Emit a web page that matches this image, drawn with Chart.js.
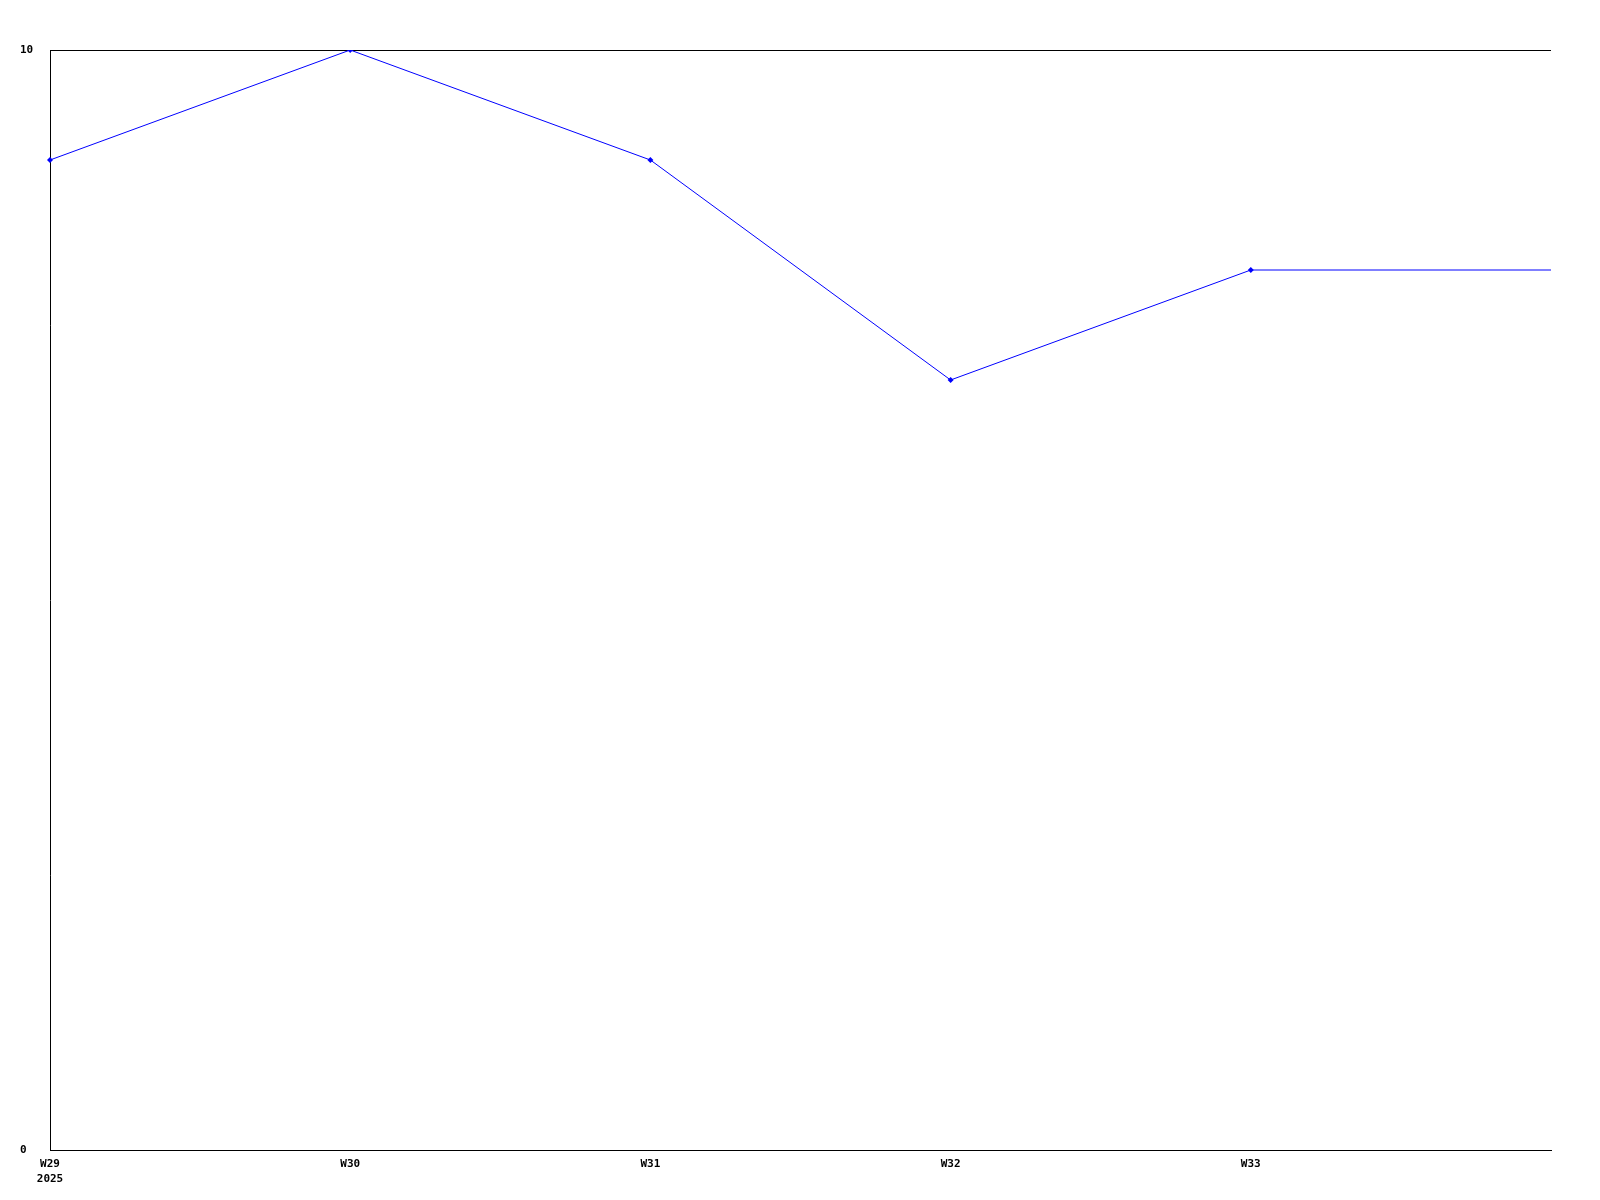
<!DOCTYPE html>
<html>
<head>
<meta charset="utf-8">
<script src="https://cdn.jsdelivr.net/npm/chart.js@4"></script>
<style>
  html, body { margin: 0; padding: 0; background: #fff; }
  #wrap { width: 1600px; height: 1200px; }
</style>
</head>
<body>
<div id="wrap"><canvas id="myChart" width="1600" height="1200"></canvas></div>
<script>
const weeks = [["W29", "2025"], "W30", "W31", "W32", "W33", ""];
const values = [9, 10, 9, 7, 8, 8];
const yTicks = [0, 10];

Chart.defaults.font.family = "'DejaVu Sans Mono', monospace";
Chart.defaults.font.size = 11;
Chart.defaults.font.weight = "bold";
Chart.defaults.color = "#000";

const ctx = document.getElementById("myChart");
const myChart = new Chart(ctx, {
  type: "line",
  data: {
    labels: weeks,
    datasets: [
      {
        data: values,
        borderColor: "#0000ff",
        backgroundColor: "#0000ff",
        borderWidth: 1,
        pointStyle: "rectRot",
        pointRadius: values.map((v, i) => (i === values.length - 1 ? 0 : 3)),
        pointBorderWidth: 0,
        tension: 0,
      },
    ],
  },
  options: {
    responsive: false,
    animation: false,
    layout: { padding: { left: 20, top: 50, right: 49, bottom: 0 } },
    plugins: {
      legend: { display: false },
      tooltip: { enabled: false },
    },
    scales: {
      x: {
        offset: false,
        grid: { display: false, drawTicks: false },
        border: { color: "#000", width: 1 },
        ticks: { padding: 7, maxRotation: 0, autoSkip: false, font: { lineHeight: 1.35 } },
        afterFit: (axis) => { axis.height = 50; },
      },
      y: {
        min: 0,
        max: 10,
        afterBuildTicks: (axis) => { axis.ticks = yTicks.map((v) => ({ value: v })); },
        grid: { color: "#000", drawTicks: false, lineWidth: 1 },
        border: { color: "#000", width: 1 },
        ticks: { crossAlign: "far", padding: 0 },
        afterFit: (axis) => { axis.width = 30; },
      },
    },
  },
});
</script>
</body>
</html>
